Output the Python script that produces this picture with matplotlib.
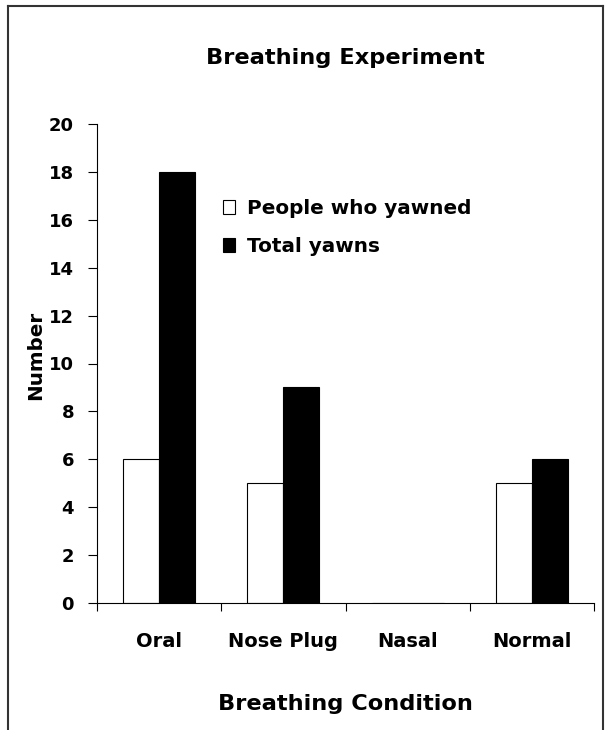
import numpy as np
import matplotlib.pyplot as plt
from matplotlib.lines import Line2D

plt.rcParams['font.family'] = ['DejaVu Sans']
plt.rcParams['font.weight'] = 'bold'

categories = ['Oral', 'Nose Plug', 'Nasal', 'Normal']
people_yawned = [6, 5, 0, 5]
total_yawns = [18, 9, 0, 6]
y_ticks = [0, 2, 4, 6, 8, 10, 12, 14, 16, 18, 20]

fig = plt.figure(figsize=(6.1, 7.3), dpi=100)
W, H = 610, 730

# outer frame (bottom edge runs off the picture)
for xs, ys in [([8, 8], [0, 724]), ([8, 603], [724, 724]), ([603, 603], [724, 0])]:
    fig.add_artist(Line2D([x / W for x in xs], [y / H for y in ys],
                          color='#333333', lw=1.5, transform=fig.transFigure))

ax = fig.add_axes([97 / W, 1 - 603 / H, (594 - 97) / W, (603 - 124) / H])
x = np.arange(len(categories))
w = 0.29
ax.bar(x - w / 2, people_yawned, w, color='white', edgecolor='black', lw=0.8,
       label='People who yawned')
ax.bar(x + w / 2, total_yawns, w, color='black', edgecolor='black', lw=0.8,
       label='Total yawns')

ax.set_xlim(-0.5, 3.5)
ax.set_ylim(0, 20)
ax.set_yticks(y_ticks)
ax.tick_params(axis='y', labelsize=13, length=6.5, width=0.8, pad=10)
ax.set_xticks(x)
ax.set_xticklabels(categories, fontsize=14, fontweight='bold')
ax.tick_params(axis='x', which='major', length=0, pad=21)
ax.set_xticks(np.arange(-0.5, 4, 1), minor=True)
ax.tick_params(axis='x', which='minor', length=6, width=0.8, direction='out')
for s in ['top', 'right']:
    ax.spines[s].set_visible(False)
for s in ['left', 'bottom']:
    ax.spines[s].set_linewidth(0.8)

ax.set_ylabel('Number', fontsize=14.3, fontweight='bold')
ax.yaxis.set_label_coords((45 - 97) / 497, (603 - 355) / 479)
fig.text(345 / W, 1 - 64 / H, 'Breathing Experiment', ha='center', va='baseline',
         fontsize=16.2, fontweight='bold')
fig.text(345 / W, 1 - 710 / H, 'Breathing Condition', ha='center', va='baseline',
         fontsize=16.2, fontweight='bold')

ax.legend(loc='upper left', bbox_to_anchor=(223 / W, 1 - 199 / H),
          bbox_transform=fig.transFigure, frameon=False, fontsize=14.4,
          borderpad=0, borderaxespad=0,
          handlelength=0.62, handleheight=0.65, handletextpad=0.58,
          labelspacing=0.95)

fig.savefig('out.png', dpi=100)
